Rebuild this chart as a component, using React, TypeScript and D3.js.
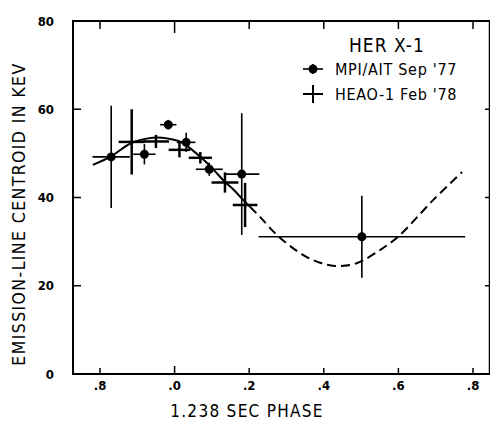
import React from "react";
import * as d3 from "d3";

// Her X-1 emission-line centroid energy versus 1.238 s pulse phase
const mpiPhase = [-0.170, -0.081, -0.017, 0.031, 0.093, 0.180, 0.502];
const mpiEnergy = [49.2, 49.8, 56.5, 52.5, 46.4, 45.3, 31.1];
const mpiPhaseErr = [0.05, 0.03, 0.022, 0.025, 0.036, 0.047, 0.277];
const mpiEnergyErr = [11.6, 2.3, 1.1, 2.2, 1.5, 13.8, 9.3];

const heaoPhase = [-0.115, -0.050, 0.013, 0.069, 0.135, 0.189];
const heaoEnergy = [52.6, 52.7, 50.8, 49.0, 43.4, 38.3];
const heaoPhaseErr = [0.035, 0.035, 0.029, 0.031, 0.036, 0.033];
const heaoEnergyErr = [7.4, 1.5, 1.7, 1.3, 2.3, 5.0];

// fitted modulation curve; solid over the measured range, dashed beyond
const curvePhase = [-0.219, -0.173, -0.117, -0.071, -0.047, -0.020, 0.014, 0.041, 0.068, 0.087, 0.111, 0.135, 0.159, 0.181, 0.202, 0.229, 0.277, 0.344, 0.390, 0.430, 0.470, 0.497, 0.551, 0.599, 0.693, 0.771];
const curveEnergy = [47.4, 49.2, 52.3, 53.4, 53.6, 53.4, 52.7, 51.2, 49.3, 47.8, 45.7, 43.5, 41.7, 39.7, 37.9, 35.6, 31.3, 27.0, 25.2, 24.5, 24.7, 25.4, 28.1, 31.1, 39.4, 45.8];
const solidEnd = 0.202;

const xTickValues = [-0.2, 0, 0.2, 0.4, 0.6, 0.8];
const xTickLabels = [".8", ".0", ".2", ".4", ".6", ".8"];
const yTickValues = [0, 20, 40, 60, 80];

const W = 490;
const H = 433;
const left = 73;
const right = 490;
const top = 21;
const bottom = 374;

const x = d3.scaleLinear().domain([-0.2, 0.8]).range([100, 473]);
const y = d3.scaleLinear().domain([0, 80]).range([bottom, top]);

const font = "'DejaVu Sans Condensed', 'DejaVu Sans', sans-serif";

export default function App() {
  const pts = curvePhase.map((p, i) => [p, curveEnergy[i]] as [number, number]);
  const solidPts = pts.filter((d) => d[0] <= solidEnd + 1e-9);
  const dashPts = pts.filter((d) => d[0] >= solidEnd - 1e-9);
  const line = d3
    .line<[number, number]>()
    .x((d) => x(d[0]))
    .y((d) => y(d[1]))
    .curve(d3.curveCatmullRom.alpha(0.5));

  return (
    <svg
      width={W}
      height={H}
      style={{ position: "absolute", left: 0, top: 0, background: "#fff" }}
      fontFamily={font}
    >
      {/* frame */}
      <path
        d={`M${right},${top}H${left}V${bottom}H${right}`}
        fill="none"
        stroke="#000"
        strokeWidth={2}
      />
      <line x1={right - 0.5} x2={right - 0.5} y1={top} y2={bottom} stroke="#000" strokeWidth={1.5} />

      {/* x ticks, bottom and top, pointing inward */}
      {xTickValues.map((v, i) => (
        <g key={"xt" + i}>
          <line x1={x(v)} x2={x(v)} y1={bottom} y2={bottom - (v === 0 ? 8 : 6)} stroke="#000" strokeWidth={1.5} />
          <line x1={x(v)} x2={x(v)} y1={top} y2={top + (v === 0 ? 12 : 8)} stroke="#000" strokeWidth={1.5} />
          <text
            x={x(v)}
            y={390}
            textAnchor="middle"
            fontSize={13}
            fontWeight="bold"
          >
            {xTickLabels[i]}
          </text>
        </g>
      ))}

      {/* y ticks, left and right */}
      {yTickValues.map((v) => (
        <g key={"yt" + v}>
          {v > 0 && v < 80 && (
            <>
              <line x1={left} x2={left + 8} y1={y(v)} y2={y(v)} stroke="#000" strokeWidth={1.5} />
              <line x1={right} x2={right - 5} y1={y(v)} y2={y(v)} stroke="#000" strokeWidth={1.5} />
            </>
          )}
          <text
            x={54}
            y={y(v)}
            dy="0.36em"
            textAnchor="end"
            fontSize={13}
            fontWeight="bold"
          >
            {v}
          </text>
        </g>
      ))}

      {/* axis titles */}
      <text x={247} y={417} textAnchor="middle" fontSize={17} letterSpacing={1.3}>
        1.238 SEC PHASE
      </text>
      <text
        transform={`translate(25,214) rotate(-90)`}
        textAnchor="middle"
        fontSize={17.5}
        letterSpacing={1.4}
      >
        EMISSION-LINE CENTROID IN KEV
      </text>

      {/* model curve */}
      <path d={line(solidPts) || ""} fill="none" stroke="#000" strokeWidth={2} />
      <path d={line(dashPts) || ""} fill="none" stroke="#000" strokeWidth={2} strokeDasharray="9,5" />

      {/* HEAO-1 crosses */}
      {heaoPhase.map((p, i) => (
        <g key={"h" + i} stroke="#000" strokeWidth={2.5}>
          <line x1={x(p - heaoPhaseErr[i])} x2={x(p + heaoPhaseErr[i])} y1={y(heaoEnergy[i])} y2={y(heaoEnergy[i])} />
          <line x1={x(p)} x2={x(p)} y1={y(heaoEnergy[i] - heaoEnergyErr[i])} y2={y(heaoEnergy[i] + heaoEnergyErr[i])} />
        </g>
      ))}

      {/* MPI/AIT points with error bars */}
      {mpiPhase.map((p, i) => (
        <g key={"m" + i}>
          <line x1={x(p - mpiPhaseErr[i])} x2={x(p + mpiPhaseErr[i])} y1={y(mpiEnergy[i])} y2={y(mpiEnergy[i])} stroke="#000" strokeWidth={1.6} />
          <line x1={x(p)} x2={x(p)} y1={y(mpiEnergy[i] - mpiEnergyErr[i])} y2={y(mpiEnergy[i] + mpiEnergyErr[i])} stroke="#000" strokeWidth={1.6} />
          <circle cx={x(p)} cy={y(mpiEnergy[i])} r={4.5} fill="#000" />
        </g>
      ))}

      {/* legend */}
      <text x={349} y={52} fontSize={19} letterSpacing={1}>
        HER X-1
      </text>
      <g stroke="#000" strokeWidth={1.6}>
        <line x1={303} x2={323} y1={69} y2={69} />
        <line x1={313} x2={313} y1={64} y2={74} />
      </g>
      <circle cx={313} cy={69} r={4.5} fill="#000" />
      <text x={335} y={75} fontSize={16} letterSpacing={0.7}>
        MPI/AIT Sep '77
      </text>
      <g stroke="#000" strokeWidth={2}>
        <line x1={303} x2={323} y1={94} y2={94} />
        <line x1={313} x2={313} y1={85} y2={103} />
      </g>
      <text x={335} y={100} fontSize={16} letterSpacing={0.7}>
        HEAO-1 Feb '78
      </text>
    </svg>
  );
}
